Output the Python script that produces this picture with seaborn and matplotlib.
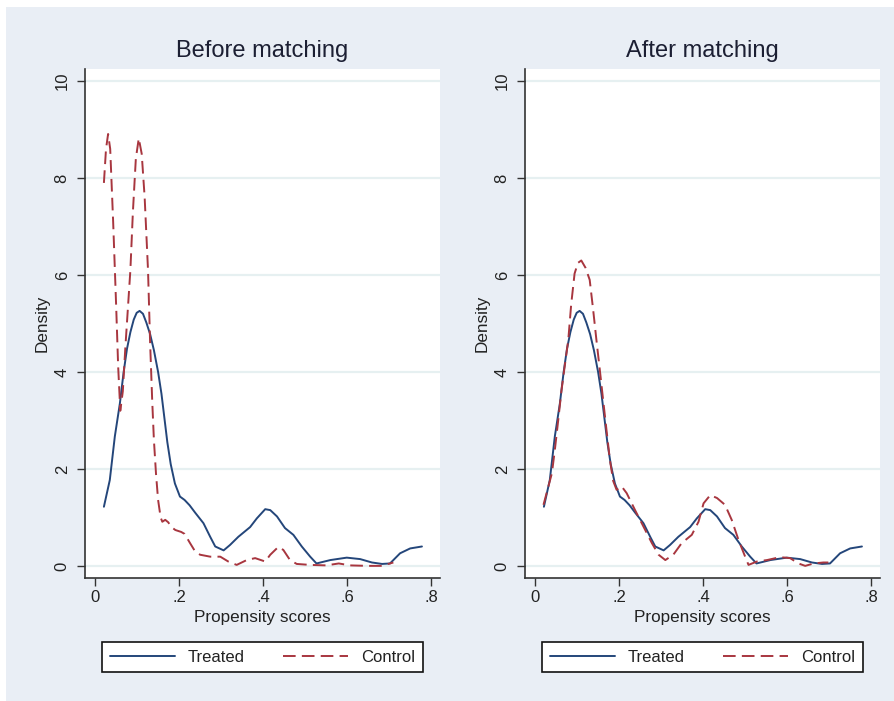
import numpy as np
import pandas as pd
import matplotlib
matplotlib.use("Agg")
import matplotlib.pyplot as plt
from matplotlib.patches import Rectangle
from matplotlib.lines import Line2D
import seaborn as sns

# ---------------- data ----------------
treated_x = [0.021, 0.035, 0.047, 0.059, 0.068, 0.076, 0.084, 0.092, 0.099, 0.106,
             0.114, 0.122, 0.131, 0.140, 0.150, 0.158, 0.165, 0.172, 0.180, 0.190,
             0.202, 0.213, 0.225, 0.238, 0.258, 0.274, 0.286, 0.306, 0.321, 0.341,
             0.369, 0.385, 0.405, 0.417, 0.433, 0.452, 0.472, 0.492, 0.512, 0.527,
             0.560, 0.599, 0.631, 0.659, 0.683, 0.702, 0.726, 0.750, 0.778]
treated_y = [1.22, 1.77, 2.67, 3.35, 4.00, 4.48, 4.82, 5.08, 5.22, 5.26,
             5.20, 5.02, 4.78, 4.45, 4.00, 3.55, 3.05, 2.55, 2.10, 1.70,
             1.43, 1.36, 1.25, 1.10, 0.88, 0.60, 0.40, 0.32, 0.43, 0.60,
             0.80, 0.98, 1.17, 1.15, 1.02, 0.78, 0.64, 0.40, 0.19, 0.05,
             0.12, 0.17, 0.14, 0.07, 0.04, 0.05, 0.26, 0.36, 0.40]

control_before_x = [0.021, 0.026, 0.031, 0.036, 0.043, 0.050, 0.055, 0.060, 0.066, 0.072,
                    0.078, 0.084, 0.090, 0.097, 0.104, 0.111, 0.118, 0.126, 0.131, 0.136,
                    0.140, 0.145, 0.150, 0.156, 0.160, 0.167, 0.174, 0.182, 0.191, 0.205,
                    0.213, 0.226, 0.238, 0.250, 0.274, 0.298, 0.317, 0.337, 0.361, 0.381,
                    0.405, 0.417, 0.436, 0.448, 0.464, 0.480, 0.512, 0.550, 0.580, 0.607,
                    0.650, 0.680, 0.702, 0.710]
control_before_y = [7.90, 8.60, 8.91, 8.60, 7.10, 5.40, 4.10, 3.20, 3.60, 4.50,
                    5.30, 6.10, 7.30, 8.40, 8.82, 8.50, 7.60, 6.10, 4.60, 3.40,
                    2.60, 1.90, 1.36, 1.00, 0.91, 0.95, 0.90, 0.80, 0.74, 0.70,
                    0.66, 0.47, 0.30, 0.23, 0.19, 0.19, 0.09, 0.02, 0.12, 0.16,
                    0.09, 0.23, 0.39, 0.33, 0.12, 0.04, 0.02, 0.01, 0.05, 0.01,
                    0.00, 0.00, 0.05, 0.07]

control_after_x = [0.020, 0.040, 0.047, 0.055, 0.063, 0.071, 0.079, 0.086, 0.094, 0.102,
                   0.110, 0.120, 0.130, 0.138, 0.146, 0.154, 0.162, 0.170, 0.178, 0.186,
                   0.194, 0.206, 0.218, 0.238, 0.258, 0.278, 0.294, 0.310, 0.329, 0.349,
                   0.373, 0.389, 0.401, 0.417, 0.433, 0.452, 0.468, 0.484, 0.500, 0.508,
                   0.528, 0.552, 0.583, 0.607, 0.627, 0.643, 0.663, 0.686, 0.698]
control_after_y = [1.26, 1.91, 2.39, 3.00, 3.63, 4.15, 4.66, 5.40, 6.03, 6.25,
                   6.30, 6.15, 5.90, 5.30, 4.66, 4.05, 3.42, 2.80, 2.19, 1.75,
                   1.57, 1.64, 1.50, 1.15, 0.81, 0.47, 0.23, 0.12, 0.23, 0.47,
                   0.64, 0.91, 1.29, 1.46, 1.40, 1.26, 0.95, 0.54, 0.19, 0.02,
                   0.09, 0.12, 0.18, 0.16, 0.05, 0.00, 0.05, 0.07, 0.07]

panel_titles = ["Before matching", "After matching"]
series_labels = ["Treated", "Control"]
x_ticks = [0, 0.2, 0.4, 0.6, 0.8]
x_tick_labels = ["0", ".2", ".4", ".6", ".8"]
y_ticks = [0, 2, 4, 6, 8, 10]
y_tick_labels = ["0", "2", "4", "6", "8", "10"]

# ---------------- style ----------------
sns.set_theme(style="white")
plt.rcParams["font.family"] = ["Liberation Sans", "DejaVu Sans"]

BG = "#e9eef5"
NAVY = "#24467a"
MAROON = "#a8363f"
GRID = "#e6f0f1"
TXT = "#1c1f33"

W, H = 894, 701
fig = plt.figure(figsize=(W / 100, H / 100), dpi=100, facecolor="white")
fig.patches.append(Rectangle((6 / W, 0), 1 - 6 / W, 1 - 7 / H, transform=fig.transFigure,
                             facecolor=BG, edgecolor="none", zorder=-10))

ax_w = 355 / W
ax_h = 509 / H
ax_b = 1 - 578 / H
axes = [fig.add_axes([85 / W, ax_b, ax_w, ax_h]),
        fig.add_axes([525 / W, ax_b, ax_w, ax_h])]

controls = [(control_before_x, control_before_y), (control_after_x, control_after_y)]

for ax, title, (cx, cy) in zip(axes, panel_titles, controls):
    ax.set_facecolor("white")
    for yt in y_ticks:
        ax.axhline(yt, color=GRID, lw=1.6, zorder=0)
    df_t = pd.DataFrame({"x": treated_x, "y": treated_y})
    df_c = pd.DataFrame({"x": cx, "y": cy})
    sns.lineplot(data=df_t, x="x", y="y", ax=ax, color=NAVY, lw=1.4,
                 estimator=None, sort=False, zorder=3)
    sns.lineplot(data=df_c, x="x", y="y", ax=ax, color=MAROON, lw=1.4,
                 estimator=None, sort=False, zorder=3, dashes=False)
    ax.lines[-1].set_dashes((6.5, 3.2))

    ax.set_xlim(-0.024, 0.821)
    ax.set_ylim(-0.25, 10.25)
    ax.set_xticks(x_ticks)
    ax.set_xticklabels(x_tick_labels)
    ax.set_yticks(y_ticks)
    ax.set_yticklabels(y_tick_labels, rotation=90, va="center")
    ax.tick_params(axis="both", direction="out", length=6, width=1.0, color="#333333",
                   labelsize=12, labelcolor="#222222", left=True, bottom=True)
    ax.tick_params(axis="y", pad=5)
    ax.tick_params(axis="x", pad=3)
    for s in ["top", "right"]:
        ax.spines[s].set_visible(False)
    for s in ["left", "bottom"]:
        ax.spines[s].set_color("#333333")
        ax.spines[s].set_linewidth(1.2)
    ax.set_xlabel("Propensity scores", fontsize=12.3, color="#222222", labelpad=3)
    ax.set_ylabel("Density", fontsize=12.3, color="#222222", labelpad=4)
    ax.set_title(title, fontsize=17, color=TXT, pad=9)
    ax.grid(False)

    handles = [Line2D([], [], color=NAVY, lw=1.4),
               Line2D([], [], color=MAROON, lw=1.4, dashes=(6.5, 3.2))]
    leg = ax.legend(handles, series_labels, ncol=2, loc="lower left",
                    bbox_to_anchor=(17 / 355, -94 / 509, 321 / 355, 35 / 509),
                    mode="expand", frameon=True, fancybox=False, fontsize=12,
                    handlelength=3.9, handletextpad=0.8, columnspacing=2.0,
                    borderpad=0.45, borderaxespad=0)
    fr = leg.get_frame()
    fr.set_edgecolor("#111111")
    fr.set_linewidth(1.2)
    fr.set_facecolor("white")
    fr.set_alpha(1)
    for t in leg.get_texts():
        t.set_color("#222222")

fig.savefig("out.png", dpi=100, facecolor=fig.get_facecolor())
